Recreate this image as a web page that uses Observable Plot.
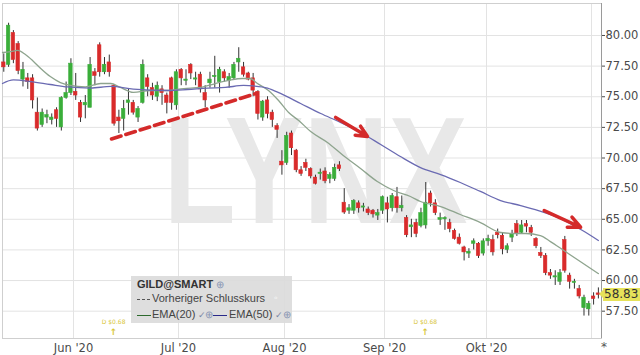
<!DOCTYPE html>
<html><head><meta charset="utf-8">
<script src="https://cdn.jsdelivr.net/npm/d3@7"></script>
<script src="https://cdn.jsdelivr.net/npm/@observablehq/plot@0.6"></script>
<style>
body{margin:0;background:#fff;}
#wrap{position:relative;width:640px;height:355px;overflow:hidden;font-family:"Liberation Sans",Arial,sans-serif;}
#legend{position:absolute;left:131px;top:276px;width:161px;height:47px;background:rgba(219,219,219,0.93);font-size:11px;color:#444;}
#legend span{position:absolute;white-space:nowrap;line-height:13px;}
#legend .ic{color:#8a96b4;font-size:10px;}
#legend .ck{color:#7a86a4;font-size:9px;}
#legend .sw{height:0;}
#price{position:absolute;left:603px;width:37px;height:13px;background:#e6e25a;color:#333;font:12px "DejaVu Sans",sans-serif;line-height:13px;text-align:left;padding-left:1px;box-sizing:border-box;}
#price:before{content:"";position:absolute;left:-4px;top:2.5px;border-top:4px solid transparent;border-bottom:4px solid transparent;border-right:4px solid #e6e25a;}
#star{position:absolute;left:601px;top:340px;font:12px "DejaVu Sans",sans-serif;color:#555;}
</style></head><body><div id="wrap"></div><script>
// ---- data ----
const openP = [77.8,77.6,80.2,79.3,76.4,76.5,76.5,73.7,72.7,73.3, 73.1,73.9,72.5,74.9,75.3,75.4,74.5,74.3,74.1,77.0, 79.2,77.0,77.8,75.9,73.3,73.2,74.5,74.5,73.3,74.5, 76.5,75.7,75.0,75.6,75.1,76.5,74.3,77.2,76.3,77.6, 76.4,76.8,75.3,76.1,76.6,76.2,77.0,76.3,76.5,77.8, 77.4,76.9,76.5,75.4,73.3,74.7,73.7,72.6,69.7,69.6, 72.0,70.6,69.0,69.6,69.1,68.4,68.7,68.9,68.3,68.3, 69.4,66.35,65.7,65.7,66.3,65.95,65.8,65.7,65.3,65.7, 66.3,65.9,66.8,65.9,65.1,64.35,64.7,64.45,64.5,67.1, 66.3,64.95,65.0,64.7,64.05,63.5,62.7,62.2,63.0,63.0, 62.2,63.2,63.3,63.9,63.65,62.5,63.5,64.6,63.9,64.6, 64.3,63.4,62.25,62.0,60.6,60.25,59.9,63.3,60.4,59.8, 59.3,57.75,57.65,58.7,58.95];
const closeP = [77.4,80.8,78.0,77.1,77.2,76.2,74.7,72.4,73.7,73.5, 73.3,73.2,74.9,75.3,77.7,75.1,73.3,74.5,77.6,76.7, 77.0,77.6,77.0,72.8,73.0,74.0,74.7,73.7,74.0,77.6, 75.8,75.1,75.9,75.3,74.5,74.5,77.0,76.5,76.4,76.9, 76.5,75.6,74.7,76.4,76.7,77.2,76.5,76.6,77.6,78.1, 76.8,76.4,75.5,73.6,74.6,73.6,73.1,72.3,69.4,71.8, 70.8,69.0,68.7,69.2,68.5,67.9,68.8,68.1,68.6,69.2, 69.1,65.55,65.9,66.5,65.9,66.05,65.5,65.4,65.5,66.8, 65.8,66.9,65.9,66.1,63.7,64.5,63.8,65.5,66.35,66.3, 65.5,65.1,65.1,64.2,63.4,63.0,62.3,62.35,63.2,62.0, 63.2,63.4,62.3,63.7,62.55,62.8,63.8,63.8,64.5,64.4, 63.9,62.8,62.0,60.6,60.4,60.35,60.6,60.8,59.9,59.9, 58.7,58.6,58.1,58.5,58.83];
const highP = [78.5,81.0,80.4,79.5,77.8,76.9,76.8,74.9,74.0,73.9, 73.6,74.1,75.0,76.2,78.1,76.9,74.7,75.1,78.2,77.3, 79.4,78.2,78.4,76.0,73.9,74.7,75.6,74.7,74.2,78.0, 76.8,76.1,76.2,75.9,75.3,76.6,77.2,77.3,77.2,77.7, 77.0,77.0,75.9,77.0,78.3,77.4,77.2,76.9,77.8,79.0, 77.8,77.0,76.9,75.5,74.7,75.0,73.9,72.8,70.6,72.1, 72.2,70.7,69.3,69.9,69.2,68.6,69.1,69.2,68.8,69.5, 69.7,67.5,66.2,66.6,66.5,66.3,66.0,65.8,65.8,66.9, 66.8,67.1,67.6,66.9,65.3,65.0,65.0,65.9,68.0,67.3, 66.6,65.5,65.2,65.0,64.2,63.8,62.8,62.6,63.4,63.1, 63.4,63.7,63.7,64.2,63.9,63.0,64.1,64.9,64.9,64.9, 64.5,63.5,62.7,62.2,60.9,60.8,60.9,63.6,60.6,60.1, 59.6,58.8,58.3,59.0,59.4];
const lowP = [77.0,77.4,77.7,76.8,75.8,75.6,74.0,72.2,72.5,72.8, 72.7,72.5,72.2,74.8,75.1,74.7,72.9,73.2,74.1,75.9, 76.6,76.8,76.6,72.6,72.0,72.2,73.5,73.5,72.9,74.4, 75.0,74.7,74.6,74.3,73.6,73.9,73.9,75.9,75.9,76.4, 75.9,75.3,74.1,75.7,75.7,75.3,76.2,75.7,76.4,77.0, 76.6,76.3,75.0,73.1,73.0,73.2,72.5,71.6,68.6,69.4, 70.2,68.8,68.5,68.9,68.3,67.8,68.2,67.9,67.9,68.1, 68.9,65.4,65.4,65.4,65.5,65.6,65.3,65.1,64.9,65.4, 64.7,65.6,65.5,65.6,63.5,63.5,63.5,64.3,64.2,66.0, 65.3,64.5,64.1,63.9,63.3,62.9,61.6,61.8,62.5,61.8, 62.0,62.8,62.0,63.4,62.1,62.2,63.1,63.6,63.8,63.9, 63.6,62.6,61.8,60.4,60.1,59.6,59.6,60.6,59.3,59.3, 58.5,57.1,57.1,58.0,58.5];

const ema20Idx = [-0.27,1.4,2.9,4.5,6.2,7.7,9.7,11.8,13.9,17.0,20.2,22.3,24.3,27.0,30.6,34.1,37.5,41.0,44.1,46.9,49.8,51.4,52.9,55.2,57.3,59.4,61.5,64.0,67.5,70.8,74.4,77.9,81.3,84.8,86.9,91.1,95.2,99.4,103.6,106.1,108.8,111.9,114.0,116.5,119.9,124.0];
const ema20Val = [78.61,78.69,78.78,78.45,77.88,77.31,76.65,76.16,75.92,75.80,76.08,76.08,75.76,75.35,75.51,75.51,75.67,75.76,76.08,76.33,76.49,76.49,76.08,75.51,74.69,73.71,73.06,72.16,71.27,70.20,69.14,68.08,67.35,66.86,66.45,66.04,65.39,64.73,63.92,63.84,63.84,63.67,63.18,62.53,61.63,60.57];
const ema50Idx = [-0.27,2.0,5.6,9.7,13.3,18.1,22.3,27.0,34.1,38.3,42.5,46.2,50.0,52.1,55.0,57.7,61.9,66.1,70.2,74.4,78.6,82.7,86.9,91.1,95.2,99.4,103.6,107.8,111.5,116.1,120.7,124.0];
const ema50Val = [76.08,76.37,76.24,76.0,75.80,75.71,75.84,75.63,75.51,75.59,75.71,75.76,75.92,75.88,75.71,75.27,74.45,73.63,72.90,72.08,71.10,70.12,69.22,68.65,68.0,67.27,66.53,66.12,65.71,65.06,64.08,63.27];

const yTicks = [57.5,60,62.5,65,67.5,70,72.5,75,77.5,80];
const monthTicks = [14.54,36.43,58.54,79.4,100.67,122.57];
const monthLabels = ["Jun '20","Jul '20","Aug '20","Sep '20","Okt '20",""];

const trendIdx = [22.46,52.7];
const trendVal = [71.55,75.27];
const arrowFromIdx = [69.2,112.7], arrowFromVal = [73.31,65.71];
const arrowToIdx = [75.85,120.3], arrowToVal = [71.76,64.35];

const dividendIdx = [22.9,87.9];
const dividendLabel = "D $0.68";
const lastPrice = 58.83;
const watermark = {text:"LYNX", i:65, v:68.73};

const xDomain = [-0.27,124.65];
const yDomain = [55.27,82.61];

// ---- build ----
const candles = openP.map((o,i)=>({i, open:o, high:highP[i], low:lowP[i], close:closeP[i]}));
const ema20 = ema20Idx.map((x,k)=>({x, v:ema20Val[k]}));
const ema50 = ema50Idx.map((x,k)=>({x, v:ema50Val[k]}));
const trend = trendIdx.map((x,k)=>({x, v:trendVal[k]}));
const arrows = arrowFromIdx.map((x,k)=>({x1:x, y1:arrowFromVal[k], x2:arrowToIdx[k], y2:arrowToVal[k]}));
const labelMap = new Map(monthTicks.map((t,k)=>[t, monthLabels[k]]));
const UP = "#3aae3a", DOWN = "#d92b2b";

const chart = Plot.plot({
  width:640, height:355,
  marginLeft:2, marginRight:39, marginTop:3, marginBottom:17,
  style:{fontFamily:"DejaVu Sans", fontSize:"11.5px", color:"#4a4a4a", background:"#fff"},
  x:{domain:xDomain, ticks:monthTicks, tickFormat:d=>labelMap.get(d) ?? "", tickSize:0, tickPadding:5, label:null},
  y:{domain:yDomain, ticks:yTicks, tickFormat:d3.format(".2f"), axis:"right", tickSize:3, tickPadding:1, label:null},
  marks:[
    Plot.ruleY(yTicks,{stroke:"#e3e3e3"}),
    Plot.ruleX(monthTicks,{stroke:"#e3e3e3"}),
    Plot.text([watermark],{x:"i", y:"v", text:"text", fontSize:153, fontWeight:"bold", fontFamily:"Liberation Sans", fill:"#e8e8e8"}),
    Plot.frame({stroke:"#cfcfcf"}),
    Plot.ruleX([xDomain[1]],{stroke:"#9a9a9a"}),
    Plot.ruleX(candles,{x:"i", y1:"low", y2:"high", stroke:"#333", strokeWidth:1}),
    Plot.rect(candles,{x1:d=>d.i-0.36, x2:d=>d.i+0.36, y1:"open", y2:"close",
      fill:d=>d.close>=d.open?UP:DOWN, stroke:d=>d.close>=d.open?UP:DOWN, strokeWidth:0.6}),
    Plot.line(ema20,{x:"x", y:"v", stroke:"#8ea48e", strokeWidth:1.3, curve:"monotone-x"}),
    Plot.line(ema50,{x:"x", y:"v", stroke:"#6a6ab2", strokeWidth:1.3, curve:"monotone-x"}),
    Plot.line(trend,{x:"x", y:"v", stroke:"#d42a2a", strokeWidth:3.5, strokeDasharray:"10,5"}),
    Plot.arrow(arrows,{x1:"x1", y1:"y1", x2:"x2", y2:"y2", stroke:"#d42a2a", strokeWidth:3.5, headLength:7, headAngle:50}),
    Plot.text(dividendIdx,{x:d=>d, frameAnchor:"bottom", dy:-15, text:()=>dividendLabel, fontSize:6, fill:"#d8c63a"}),
    Plot.text(dividendIdx,{x:d=>d, frameAnchor:"bottom", dy:-4, text:()=>"↑", fontSize:9, fontWeight:"bold", fill:"#d8c63a"})
  ]
});

const wrap = document.getElementById("wrap");
wrap.appendChild(chart);

// watermark width
d3.select(chart).selectAll("text").filter(function(){return this.textContent===watermark.text;})
  .attr("textLength",304).attr("lengthAdjust","spacingAndGlyphs");

// legend
const lg = document.createElement("div");
lg.id = "legend";
lg.innerHTML = `
<span style="left:6px;top:2px;font-weight:bold;color:#333">GILD@SMART</span>
<span class="ic" style="left:85px;top:2px">⊕</span>
<span class="sw" style="left:6px;top:23px;width:13px;border-top:1.5px dashed #555"></span>
<span style="left:21px;top:16px">Vorheriger Schlusskurs</span>
<span class="ic" style="left:143px;top:15px;color:#fff">◦</span>
<span class="sw" style="left:6px;top:39px;width:14px;border-top:1.5px solid #2d6a2d"></span>
<span style="left:21px;top:32px">EMA(20)</span>
<span class="ck" style="left:67px;top:33px">✓</span>
<span class="ic" style="left:74px;top:32px">⊕</span>
<span class="sw" style="left:82px;top:39px;width:14px;border-top:1.5px solid #2a2a8a"></span>
<span style="left:98px;top:32px">EMA(50)</span>
<span class="ck" style="left:144px;top:33px">✓</span>
<span class="ic" style="left:152px;top:32px">⊕</span>`;
wrap.appendChild(lg);

// last price tag
const py = chart.scale("y").apply(lastPrice);
const pr = document.createElement("div");
pr.id = "price";
pr.style.top = (py - 6.5) + "px";
pr.textContent = d3.format(".2f")(lastPrice);
wrap.appendChild(pr);

const st = document.createElement("div");
st.id = "star"; st.textContent = "*";
wrap.appendChild(st);
</script></body></html>
